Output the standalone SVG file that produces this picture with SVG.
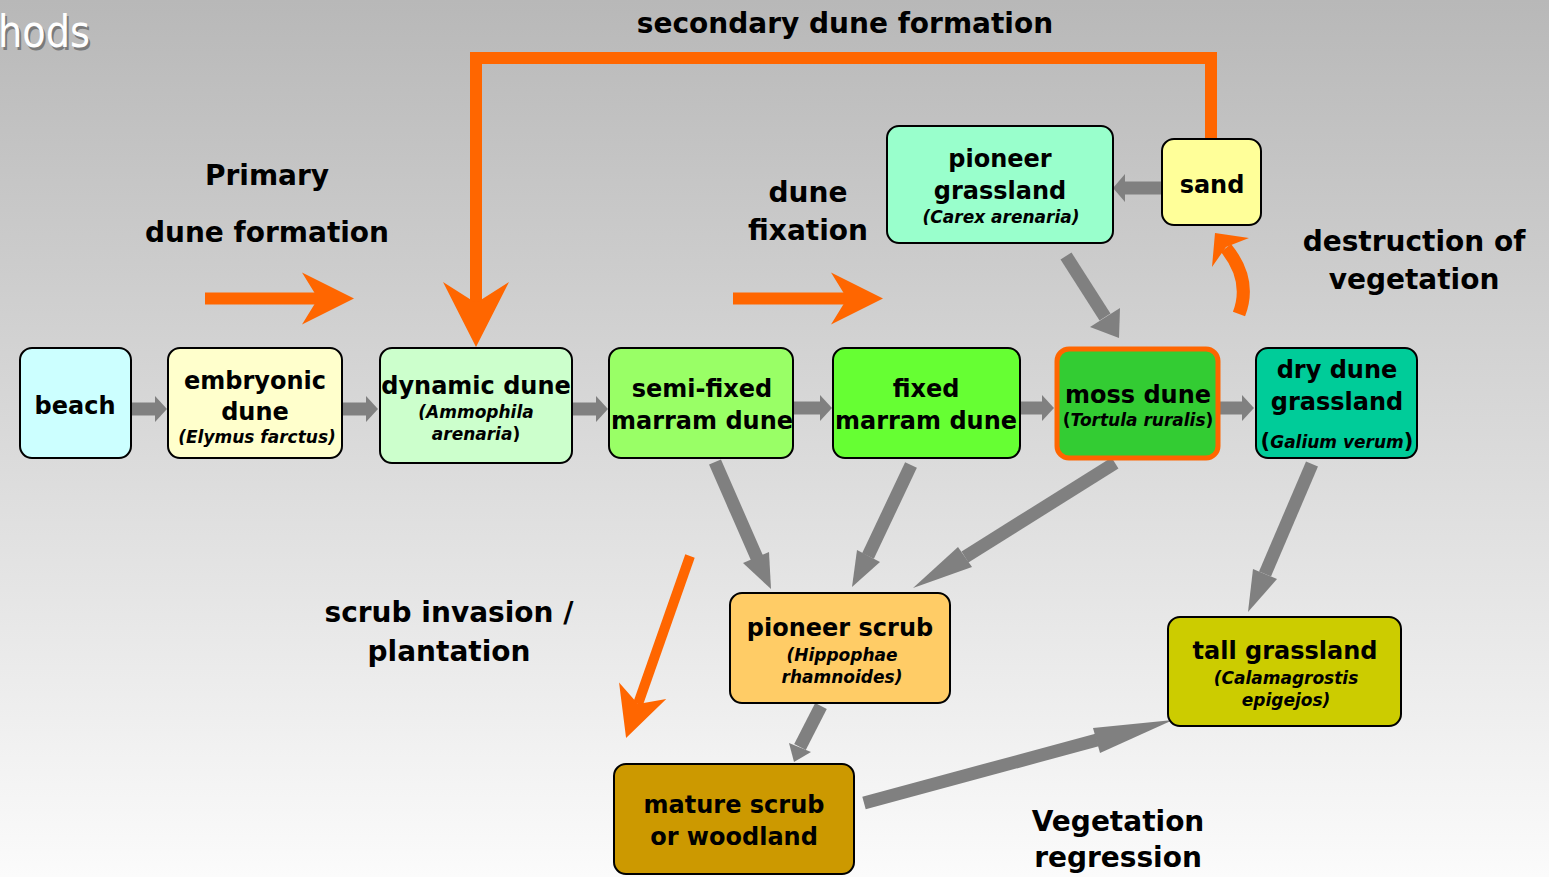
<svg xmlns="http://www.w3.org/2000/svg" width="1549" height="877" viewBox="0 0 1549 877">
<defs>
<linearGradient id="bg" x1="0" y1="0" x2="0" y2="1">
<stop offset="0" stop-color="#b8b8b8"/>
<stop offset="1" stop-color="#fbfbfb"/>
</linearGradient>
<marker id="oh" markerUnits="userSpaceOnUse" viewBox="0 -26 52 52" markerWidth="52" markerHeight="52" refX="16" refY="0" orient="auto" overflow="visible"><path d="M0,-26 L52,0 L0,26 L16,0 Z" fill="#ff6600"/></marker>
<marker id="ohb" markerUnits="userSpaceOnUse" viewBox="0 -33 65 66" markerWidth="65" markerHeight="66" refX="21" refY="0" orient="auto" overflow="visible"><path d="M0,-33 L65,0 L0,33 L21,0 Z" fill="#ff6600"/></marker>
<marker id="ohs" markerUnits="userSpaceOnUse" viewBox="0 -25 50 50" markerWidth="50" markerHeight="50" refX="14" refY="0" orient="auto" overflow="visible"><path d="M0,-25 L50,0 L0,25 L14,0 Z" fill="#ff6600"/></marker>
</defs>
<style>
.box{stroke:#000;stroke-width:2}
.t{font-family:"DejaVu Sans","Verdana",sans-serif;font-weight:bold;font-size:24px;fill:#000;text-anchor:middle}
.s{font-family:"DejaVu Sans","Verdana",sans-serif;font-weight:bold;font-style:italic;font-size:17px;fill:#000;text-anchor:middle}
.p{font-family:"DejaVu Sans","Verdana",sans-serif;font-weight:bold;font-size:17px;fill:#000;text-anchor:middle}
.pb{font-size:21px}
.u{font-style:normal}
.i{font-style:italic}
.lab{font-family:"DejaVu Sans","Verdana",sans-serif;font-weight:bold;font-size:28px;fill:#000;text-anchor:middle}
.g{stroke:#808080;stroke-width:13;fill:none}
.gh{fill:#808080}
.o{stroke:#ff6600;fill:none}
</style>
<rect x="0" y="0" width="1549" height="877" fill="url(#bg)"/>
<text x="0" y="50" font-family="'DejaVu Sans',sans-serif" font-size="44" textLength="92" lengthAdjust="spacingAndGlyphs" fill="#7a7a7a">hods</text>
<text x="-2" y="47" font-family="'DejaVu Sans',sans-serif" font-size="44" textLength="92" lengthAdjust="spacingAndGlyphs" fill="#ffffff">hods</text>

<g id="labels">
<text class="lab" x="845" y="33">secondary dune formation</text>
<text class="lab" x="267" y="185">Primary</text>
<text class="lab" x="267" y="242">dune formation</text>
<text class="lab" x="808" y="202">dune</text>
<text class="lab" x="808" y="240">fixation</text>
<text class="lab" x="1414" y="251">destruction of</text>
<text class="lab" x="1414" y="289">vegetation</text>
<text class="lab" x="449" y="622">scrub invasion /</text>
<text class="lab" x="449" y="661">plantation</text>
<text class="lab" x="1118" y="831">Vegetation</text>
<text class="lab" x="1118" y="867">regression</text>
</g>

<g id="connectors">
<line class="o" x1="205" y1="298.5" x2="318" y2="298.5" stroke-width="12" marker-end="url(#oh)"/>
<line class="o" x1="733" y1="298.5" x2="847" y2="298.5" stroke-width="12" marker-end="url(#oh)"/>
<path class="o" d="M1211,139 V58 H476 V303" stroke-width="12" stroke-linejoin="miter" marker-end="url(#ohb)"/>
<line class="o" x1="690" y1="556" x2="638" y2="704" stroke-width="10" marker-end="url(#ohs)"/>
<path class="o" d="M1239,314 Q1252,280 1226,248" stroke-width="13"/>
<polygon fill="#ff6600" points="1215,233 1249,238 1226,247 1212,267"/>

<line class="g" x1="131" y1="409" x2="156" y2="409" stroke-width="14"/>
<polygon class="gh" points="155,396 167,409 155,422"/>
<line class="g" x1="342" y1="409" x2="367" y2="409" stroke-width="14"/>
<polygon class="gh" points="366,396 378,409 366,422"/>
<line class="g" x1="572" y1="409" x2="597" y2="409" stroke-width="14"/>
<polygon class="gh" points="596,396 608,409 596,422"/>
<line class="g" x1="793" y1="408" x2="821" y2="408" stroke-width="14"/>
<polygon class="gh" points="820,395 832,408 820,421"/>
<line class="g" x1="1020" y1="408" x2="1043" y2="408" stroke-width="14"/>
<polygon class="gh" points="1042,395 1054,408 1042,421"/>
<line class="g" x1="1220" y1="408" x2="1243" y2="408" stroke-width="14"/>
<polygon class="gh" points="1242,395 1254,408 1242,421"/>
<line class="g" x1="1162" y1="188" x2="1124" y2="188"/>
<polygon class="gh" points="1125,174 1113,188 1125,202"/>

<line class="g" x1="715" y1="462" x2="757" y2="558"/>
<polygon class="gh" points="743,563 771,589 769,552"/>
<line class="g" x1="911" y1="465" x2="868" y2="556"/>
<polygon class="gh" points="857,550 852,587 880,562"/>
<line class="g" x1="1115" y1="463" x2="965" y2="557"/>
<polygon class="gh" points="958,547 913,588 972,567"/>
<line class="g" x1="1312" y1="464" x2="1265" y2="574"/>
<polygon class="gh" points="1253,569 1248,612 1277,579"/>
<line class="g" x1="1066" y1="256" x2="1105" y2="317" stroke-width="16"/>
<polygon class="gh" points="1090,327 1119,338 1120,308"/>
<line class="g" x1="821" y1="706" x2="800" y2="747" stroke-width="12"/>
<polygon class="gh" points="789,743 794,762 811,752"/>
<line class="g" x1="864" y1="803" x2="1097" y2="740" stroke-width="12"/>
<polygon class="gh" points="1093,728 1173,720 1100,753"/>
</g>

<g id="beach"><rect class="box" x="20" y="348" width="111" height="110" rx="12" fill="#ccffff"/>
<text class="t" x="75" y="414">beach</text></g>

<g id="embryonic"><rect class="box" x="168" y="348" width="174" height="110" rx="12" fill="#ffffcc"/>
<text class="t" x="255" y="389">embryonic</text>
<text class="t" x="255" y="420">dune</text>
<text class="s" x="257" y="443">(Elymus farctus)</text></g>

<g id="dynamic"><rect class="box" x="380" y="348" width="192" height="115" rx="12" fill="#ccffcc"/>
<text class="t" x="476" y="394">dynamic dune</text>
<text class="s" x="476" y="418">(Ammophila</text>
<text class="s" x="476" y="440">arenaria<tspan class="u">)</tspan></text></g>

<g id="semifixed"><rect class="box" x="609" y="348" width="184" height="110" rx="12" fill="#99ff66"/>
<text class="t" x="702" y="397">semi-fixed</text>
<text class="t" x="702" y="429">marram dune</text></g>

<g id="fixed"><rect class="box" x="833" y="348" width="187" height="110" rx="12" fill="#66ff33"/>
<text class="t" x="926" y="397">fixed</text>
<text class="t" x="926" y="429">marram dune</text></g>

<g id="moss"><rect x="1057" y="349" width="161" height="109" rx="12" fill="#33cc33" stroke="#ff6600" stroke-width="5"/>
<text class="t" x="1138" y="403">moss dune</text>
<text class="p" x="1138" y="426">(<tspan class="i">Tortula ruralis</tspan>)</text></g>

<g id="drydune"><rect class="box" x="1256" y="348" width="161" height="110" rx="12" fill="#00cc99"/>
<text class="t" x="1337" y="378">dry dune</text>
<text class="t" x="1337" y="410">grassland</text>
<text class="p" x="1337" y="448"><tspan class="pb">(</tspan><tspan class="i">Galium verum</tspan><tspan class="pb">)</tspan></text></g>

<g id="pioneergrassland"><rect class="box" x="887" y="126" width="226" height="117" rx="12" fill="#99ffcc"/>
<text class="t" x="1000" y="167">pioneer</text>
<text class="t" x="1000" y="199">grassland</text>
<text class="s" x="1001" y="223">(Carex arenaria)</text></g>

<g id="sand"><rect class="box" x="1162" y="139" width="99" height="86" rx="12" fill="#ffff99"/>
<text class="t" x="1212" y="193">sand</text></g>

<g id="pioneerscrub"><rect class="box" x="730" y="593" width="220" height="110" rx="12" fill="#ffcc66"/>
<text class="t" x="840" y="636">pioneer scrub</text>
<text class="s" x="842" y="661">(Hippophae</text>
<text class="s" x="842" y="683">rhamnoides)</text></g>

<g id="tallgrassland"><rect class="box" x="1168" y="617" width="233" height="109" rx="12" fill="#cccc00"/>
<text class="t" x="1285" y="659">tall grassland</text>
<text class="s" x="1286" y="684">(Calamagrostis</text>
<text class="s" x="1286" y="706">epigejos)</text></g>

<g id="maturescrub"><rect class="box" x="614" y="764" width="240" height="110" rx="12" fill="#cc9900"/>
<text class="t" x="734" y="813">mature scrub</text>
<text class="t" x="734" y="845">or woodland</text></g>
</svg>
